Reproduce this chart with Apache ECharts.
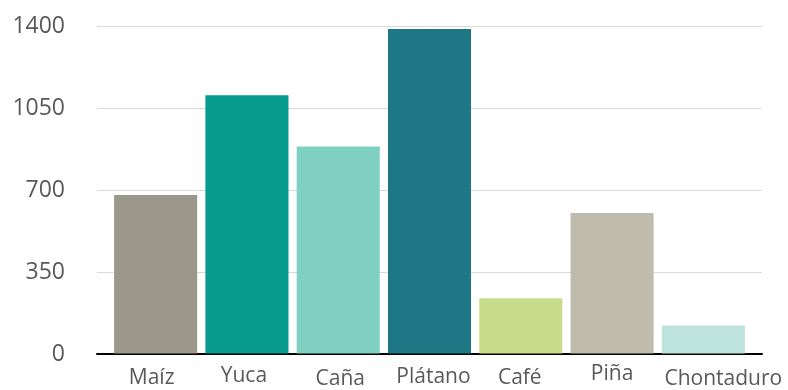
<!DOCTYPE html>
<html><head><meta charset="utf-8">
<script src="https://cdn.jsdelivr.net/npm/echarts@6/dist/echarts.min.js"></script>
<style>html,body{margin:0;padding:0;background:#fff}#c{width:788px;height:390px}</style>
</head><body><div id="c"></div>
<script>
const categories = ['Maíz','Yuca','Caña','Plátano','Café','Piña','Chontaduro'];
const values = [678, 1104, 885, 1387, 236, 601, 120];
const barColors = ['#9b978b','#069b8d','#7fd0c2','#1e7784','#c7dd8b','#bfbcad','#bce3dc'];
const yTicks = [0, 350, 700, 1050, 1400];

// label fine-positioning (style only): [dx, dy]
const labelShift = [[-4,1],[-3,-1],[2,2],[4,0],[-1,1],[0,-3],[20,2]];

const chart = echarts.init(document.getElementById('c'));
const font = '"Open Sans", "Noto Sans", sans-serif';
const rich = {};
labelShift.forEach((s, i) => {
  const dx = s[0], dy = s[1];
  rich['l' + i] = {
    color: '#595959', fontSize: 21, fontFamily: font,
    padding: [Math.max(dy, 0) * 2, Math.max(-dx, 0) * 2, Math.max(-dy, 0) * 2, Math.max(dx, 0) * 2]
  };
});
chart.setOption({
  animation: false,
  backgroundColor: '#fff',
  grid: [
    {left: 110, width: 639, top: 26, bottom: 36},
    {left: 97, right: 26, top: 26, bottom: 36}
  ],
  xAxis: [
    {type: 'category', gridIndex: 0, data: categories,
     axisLine: {show: false}, axisTick: {show: false},
     axisLabel: {color: '#595959', fontSize: 21, fontFamily: font, margin: 24, interval: 0,
                 verticalAlign: 'middle', lineHeight: 24,
                 formatter: (v, i) => '{l' + i + '|' + v + '}', rich: rich}},
    {type: 'category', gridIndex: 1, data: [''],
     axisLine: {show: true, lineStyle: {color: '#000', width: 2}}, axisTick: {show: false},
     axisLabel: {show: false}}
  ],
  yAxis: [
    {type: 'value', gridIndex: 0, min: yTicks[0], max: yTicks[yTicks.length-1], interval: 350,
     show: false, splitLine: {show: false}},
    {type: 'value', gridIndex: 1, min: yTicks[0], max: yTicks[yTicks.length-1], interval: 350,
     axisLine: {show: false}, axisTick: {show: false},
     axisLabel: {color: '#595959', fontSize: 23, fontFamily: font, margin: 32,
                 formatter: v => String(v)},
     splitLine: {lineStyle: {color: '#d9d9d9', width: 1}}}
  ],
  series: [{
    type: 'bar', xAxisIndex: 0, yAxisIndex: 0,
    barCategoryGap: '9%',
    data: values.map((v, i) => ({value: v, itemStyle: {color: barColors[i]}})),
    z: 2
  }]
});
</script></body></html>
